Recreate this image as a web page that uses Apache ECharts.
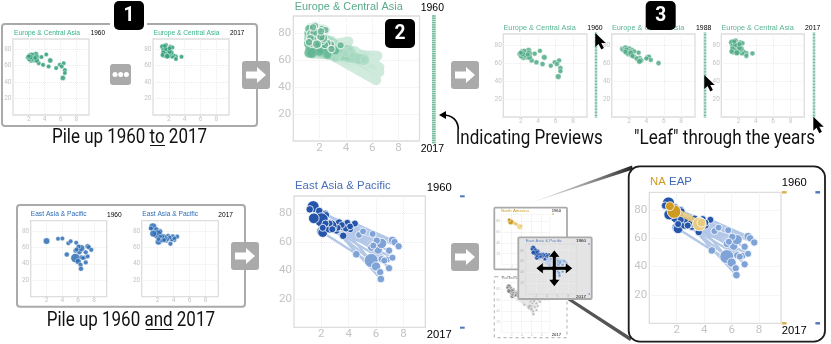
<!DOCTYPE html>
<html><head><meta charset="utf-8">
<style>html,body{margin:0;padding:0;background:#fff}#c{width:831px;height:344px}</style>
<script src="https://cdn.jsdelivr.net/npm/echarts@6/dist/echarts.min.js"></script>
</head><body><div id="c"></div>
<script>
// ---------- data: [fertility, life expectancy]
const years = [1960,1961,1962,1963,1964,1965,1966,1967,1968,1969,1970,1971,1972,1973,1974,1975,1976,1977,1978,1979,1980,1981,1982,1983,1984,1985,1986,1987,1988,1989,1990,1991,1992,1993,1994,1995,1996,1997,1998,1999,2000,2001,2002,2003,2004,2005,2006,2007,2008,2009,2010,2011,2012,2013,2014,2015,2016,2017];
const endYears = [1960,2017];
const eca1960 = [[1.87,70],[2.17,73.2],[2.5,71],[2.9,74],[2.7,67],[2.3,66],[3.1,70.4],[3.6,70.4],[4.2,73.6],[4.7,66.4],[3.25,63],[3.8,61],[4.5,59],[5.45,57],[5.9,61],[6.4,63],[6.15,59],[6.55,54.5],[6.55,51],[6.3,45],[2.1,68],[2.5,68.5],[2.9,71.5],[2.4,73.5],[3.0,66.5],[2.2,70.5],[2.8,69.5],[2.0,71.5]];
const eca1988 = [[1.2,76],[1.3,75],[1.6,77],[2.0,75.6],[1.8,72],[1.9,70],[2.35,74.5],[2.6,73],[3.1,71.6],[3.2,65.4],[2.6,67],[2.9,65],[3.3,63.5],[4.1,66.5],[4.3,67],[4.5,63.5],[3.4,63],[5.4,60],[4.0,65],[3.2,62],[1.9,71],[2.1,73],[1.5,74],[1.7,75],[2.3,69],[2.2,71],[2.4,68],[1.6,72.5]];
const eca2000 = [[1.25,79],[1.3,78],[1.35,79.5],[1.55,79],[1.2,72],[1.25,67],[1.5,78],[1.7,78],[1.9,78],[2.2,68],[1.3,70],[1.4,68],[1.2,65],[1.8,69],[2.3,68],[2.6,64],[3.2,67],[2.0,66],[1.6,70],[1.7,74],[1.4,75],[1.3,66],[1.25,72],[1.3,67],[1.6,76],[1.4,65],[1.2,80],[1.8,76.5]];
const eca2017 = [[1.3,84],[1.65,85],[1.45,82],[1.2,83],[1.35,79],[1.4,72],[1.7,81],[2.2,83],[2.45,82],[2.85,71],[1.6,76],[1.9,72],[1.8,79],[2.0,79],[2.6,72.4],[2.9,68],[3.6,70.8],[2.4,71],[2.2,74],[2.3,76],[1.6,80],[1.5,75],[1.3,76],[1.2,73],[2.1,77],[1.8,71.5],[1.5,84],[2.1,81]];
const ecaPop = [10,8,40,50,60,8,5,5,5,30,6,8,10,5,4,5,6,8,5,40,50,20,15,10,35,60,5,8];
const eap1960 = [[2.0,67.6],[3.45,70.4],[4.0,70.8],[4.75,65],[5.05,67.5],[5.75,65.7],[4.56,51.4],[5.65,47],[6.0,42.8],[6.3,38.8],[6.35,34],[6.95,41.6],[6.4,48],[6.8,47.7],[7.2,49],[7.2,61.2],[7.35,60],[7.65,57],[6.95,54],[6.15,54.5],[6.4,59],[5.65,56],[6.05,61],[5.8,57.5],[6.6,47]];
const eap2017 = [[1.4,84.9],[1.15,83],[1.85,81.8],[2.3,80],[3.3,73.7],[2.35,79],[3.6,64.4],[2.0,75.6],[2.1,66.7],[3.55,70.7],[3.1,68],[3.9,73.5],[4.1,69],[3.8,69.5],[2.9,69.5],[4.45,73],[4.1,71],[3.5,72],[3.2,70],[1.45,76.7],[2.65,71],[2.6,73],[2.3,73],[2.1,70],[2.8,69]];
const eapPop1960 = [220,12,12,12,12,12,40,900,140,25,40,25,20,15,15,60,25,25,25,90,250,25,25,15,15];
const eapPop2017 = [500,30,40,15,40,15,30,900,200,40,15,15,15,15,15,15,8,8,8,300,800,15,15,15,15];
const na1960 = [[3.65,70],[3.8,71]];
const na2017 = [[1.8,78.8],[1.5,82.6]];
const naPop = [800,110];

// ---------- styling
const GREEN='#2f9e78', BLUE='#2b6cb4', LBLUE='#7fa3d6', DBLUE='#2455aa', GOLD='#cf9a22', LGOLD='#e9cb80', FRAME='#aaaaaa';
const grids=[],xAxes=[],yAxes=[],series=[],gfx=[];
const meas=document.createElement('canvas').getContext('2d');
const size=k=>v=>k*(6+0.27*Math.sqrt(v[2]));
const withPop=(pts,pop)=>pts.map((p,i)=>[p[0],p[1],pop[i]]);
const pairs=(a,b)=>a.map((p,i)=>({coords:[p,b[i]]}));

function plot(x1,y1,x2,y2,font,z,opt){
  opt=opt||{};
  const i=grids.length;
  grids.push({left:x1,top:y1,width:x2-x1,height:y2-y1,show:true,borderColor:opt.border||'#dddddd',borderWidth:opt.bw||1.3,backgroundColor:'transparent',z:z});
  const lab={color:opt.lab||'#c4c4c4',fontSize:font,fontFamily:'Roboto'};
  const split={show:true,lineStyle:{color:'#ececec',width:1,type:'dotted'},showMinLine:false,showMaxLine:false};
  xAxes.push({type:'value',gridIndex:i,min:0,max:9.6,interval:2,z:z,axisLine:{show:false},axisTick:{show:false},axisLabel:Object.assign({showMinLabel:false,showMaxLabel:false,margin:opt.mx==null?0.5:opt.mx},lab),splitLine:split});
  yAxes.push({type:'value',gridIndex:i,min:0,max:92.4,interval:20,z:z,axisLine:{show:false},axisTick:{show:false},axisLabel:Object.assign({showMinLabel:false,showMaxLabel:false,margin:opt.my==null?1.5:opt.my},lab),splitLine:split});
  return i;
}
function dots(g,pts,pop,k,color,z,op,bc,bw){
  series.push({type:'scatter',xAxisIndex:g,yAxisIndex:g,data:withPop(pts,pop),symbolSize:size(k),z:z,silent:true,
    itemStyle:{color:color,opacity:op==null?0.85:op,borderColor:bc||'#ffffff',borderWidth:bw==null?0.5:bw}});
}
function links(g,a,b,color,w,op,z){
  series.push({type:'lines',coordinateSystem:'cartesian2d',xAxisIndex:g,yAxisIndex:g,data:pairs(a,b),z:z,silent:true,
    lineStyle:{color:color,width:w,opacity:op,curveness:0,cap:'round'}});
}
function strip(x1,y1,x2,y2,yrs,marks,z){
  const i=grids.length;
  grids.push({left:x1,top:y1,width:x2-x1,height:y2-y1,show:false,z:z});
  const off={show:false};
  xAxes.push({type:'value',gridIndex:i,min:0,max:1,show:false,axisLine:off,splitLine:off});
  yAxes.push({type:'value',gridIndex:i,min:1960,max:2017,inverse:true,show:false,axisLine:off,splitLine:off});
  marks.forEach(m=>series.push({type:'scatter',xAxisIndex:i,yAxisIndex:i,data:yrs.map(y=>[m.x,y]),symbol:'rect',symbolSize:[m.w,m.h],z:z,silent:true,clip:false,itemStyle:{color:m.color}}));
}
function T(s,x1,x2,cy,fs,fill,fam,z,w){
  const font=(w||'normal')+' '+fs+'px "'+(fam||'Liberation Sans')+'"';
  meas.font=font;
  const sx=(x2-x1)/meas.measureText(s).width;
  gfx.push({type:'text',x:x1,y:cy,scaleX:sx,scaleY:1,z:z||50,silent:true,style:{text:s,font:font,fill:fill||'#000',textAlign:'left',textVerticalAlign:'middle'}});
}
function R(x1,y1,x2,y2,r,fill,stroke,lw,z,dash){
  gfx.push({type:'rect',z:z||40,silent:true,shape:{x:x1,y:y1,width:x2-x1,height:y2-y1,r:r},style:{fill:fill||'transparent',stroke:stroke||null,lineWidth:lw||0,lineDash:dash||null}});
}
function badge(x1,y1,s){
  R(x1,y1,x1+30,y1+29,5,'#000',null,0,60);
  T(s,x1+9.5,x1+20.5,y1+15,21,'#fff','Roboto',61,'bold');
}
function btn(x1,y1){
  R(x1,y1,x1+28,y1+28,3,FRAME,null,0,40);
  const c=y1+14,l=x1+4;
  gfx.push({type:'polygon',z:41,silent:true,shape:{points:[[l,c-3.5],[l+11,c-3.5],[l+11,c-8],[l+20,c],[l+11,c+8],[l+11,c+3.5],[l,c+3.5]]},style:{fill:'#fff'}});
}
function cursor(x,y){
  gfx.push({type:'polygon',z:70,silent:true,shape:{points:[[x,y],[x,y+14],[x+3.2,y+11],[x+6,y+16.5],[x+8.6,y+15],[x+6,y+10],[x+10.5,y+10]]},style:{fill:'#000'}});
}

// ---------- row 1
R(2,24,257,126,3,'#fff',FRAME,2,1);
R(110,20,147,30,0,'#fff',null,0,2);
badge(114,1,'1');
let g;
g=plot(13,39,89,115,6.5,5); dots(g,eca1960,ecaPop,0.68,GREEN,6);
g=plot(153,39,229,115,6.5,5); dots(g,eca2017,ecaPop,0.68,GREEN,6);
T('Europe & Central Asia',14,80,33,7,'#36b38a');
T('1960',90.7,105,33.5,6.5);
T('Europe & Central Asia',153.7,219.5,33,7,'#36b38a');
T('2017',230,244.3,33.5,6.5);
R(110,64,131,85,3,FRAME,null,0,40);
[115,120.7,126.4].forEach(x=>gfx.push({type:'circle',z:41,silent:true,shape:{cx:x,cy:74.5,r:2.5},style:{fill:'#fff'}}));
btn(242,61);
T('Pile up 1960 to 2017',52,207,137.5,20,'#111','Roboto');
gfx.push({type:'line',z:50,silent:true,shape:{x1:150,y1:145.5,x2:165,y2:145.5},style:{stroke:'#111',lineWidth:1}});

// big ECA
g=plot(293.3,16,419.5,141,11.5,5,{mx:1,my:2});
links(g,eca1960,eca1988,'#c4e6d5',10,0.8,6);
dots(g,eca1960,ecaPop,1.2,'#cfeadd',6.5,1,'#cfeadd',0);
links(g,eca1988,eca2000,'#93d0b3',10,0.6,7);
links(g,eca2000,eca2017,'#a6d9c0',9,0.6,7);
dots(g,eca1988,ecaPop,1.2,'#a9dac2',7.5,0.8,'#d3ecdf',0.5);
dots(g,eca2000,ecaPop,1.2,'#62b592',8,0.85,'#8fcdb0',0.5);
dots(g,eca2017,ecaPop,1.1,'#5fb08e',9,0.75,'#ffffff',1.2);
T('Europe & Central Asia',294.7,402.7,7,11.5,'#59ab8a');
T('1960',420.7,444,8,10.5);
T('2017',420.7,444,149,10.5);
strip(432,16,435.7,142.5,years,[{x:0.5,color:'#4ea982',w:3.7,h:1.6}],5);
badge(385,19,'2');
btn(451,61);
gfx.push({type:'bezierCurve',z:50,silent:true,shape:{x1:458.3,y1:129,x2:443,y2:115,cpx1:458,cpy1:120,cpx2:452,cpy2:115},style:{stroke:'#000',lineWidth:1.6,fill:'none'}});
gfx.push({type:'polygon',z:50,silent:true,shape:{points:[[439,115],[446,111],[446,119]]},style:{fill:'#000'}});
T('Indicating Previews',455.7,602.7,139,20,'#111','Roboto');

// leafing panels
[[503.3,587,eca1960,'1960',587.3,594.7,33],[611.7,695,eca1988,'1988',696,703.7,75],[721.3,804.3,eca2017,'2017',805,812.7,116.7]].forEach(p=>{
  const i=plot(p[0],34,p[1],117,6.5,5);
  dots(i,p[2],ecaPop,0.75,'#4daa85',6);
  T('Europe & Central Asia',p[0]+0.2,p[0]+72.5,27.7,7,'#58b391');
  T(p[3],p[4],p[4]+15.3,28.2,6.8);
  strip(p[5],33,p[5]+2.6,117,years,[{x:0.5,color:'#4ea982',w:2.6,h:1}],5);
  cursor(p[5]+0.6,p[6]);
});
R(645,19,676,30,0,'#fff',null,0,39);
badge(645.7,1,'3');
T('"Leaf" through the years',634,815,139,20,'#111','Roboto');

// ---------- row 2
R(17,205,245,306.7,3,'#fff',FRAME,2,1);
g=plot(30.7,220.7,106.7,296.7,6.5,5); dots(g,eap1960,eapPop1960,0.65,BLUE,6);
g=plot(141.7,220.7,218.3,296.7,6.5,5); dots(g,eap2017,eapPop2017,0.65,BLUE,6);
T('East Asia & Pacific',30.7,86.7,214.3,7,BLUE);
T('1960',107,121.7,215,6.5);
T('East Asia & Pacific',142.3,198,214.3,7,BLUE);
T('2017',218.3,233,215,6.5);
btn(231,242);
T('Pile up 1960 and 2017',46.7,215,320.5,20,'#111','Roboto');
gfx.push({type:'line',z:50,silent:true,shape:{x1:145.7,y1:329.5,x2:173.5,y2:329.5},style:{stroke:'#111',lineWidth:1}});

// big EAP
function eapLayers(g,k,wide,thin){
  links(g,eap1960,eap2017,'#ffffff',wide,1,6);
  links(g,eap1960,eap2017,'#b3c7e7',thin,1,6.5);
  dots(g,eap1960,eapPop1960,k,LBLUE,7,1,'#fff',0.8);
  dots(g,eap2017,eapPop2017,k,DBLUE,8,1,'#fff',0.8);
}
g=plot(294,196,425.3,327.3,11.5,5,{mx:1,my:2});
eapLayers(g,1,3.4,2.4);
T('East Asia & Pacific',295,390.7,186,11.5,'#4a6fba');
T('1960',426.7,451.7,187.7,10.5);
T('2017',426.7,451.7,335,10.5);
strip(460,196.3,464.7,327.7,endYears,[{x:0.5,color:DBLUE,w:4.7,h:2}],5);
btn(451,243);

// tiny stack
gfx.push({type:'polygon',z:2,silent:true,shape:{points:[[530,203],[632,165.5],[633,169.5]]},style:{fill:{type:'linear',x:0,y:0,x2:1,y2:0,colorStops:[{offset:0,color:'rgba(190,190,190,0.3)'},{offset:1,color:'#222'}]}}});
gfx.push({type:'polygon',z:2,silent:true,shape:{points:[[566,299],[570,298],[632,338],[630,341]]},style:{fill:'#555'}});
R(494.3,207.7,567,269.3,1,'#fff',FRAME,1.8,10);
g=plot(501.7,214.5,549.7,264.4,3.6,11,{border:'#f0f0f0',bw:0.6});
links(g,na1960,na2017,LGOLD,2,1,12);
dots(g,na1960,naPop,0.42,LGOLD,13,1);
dots(g,na2017,naPop,0.42,GOLD,13,1);
T('North America',501,529,210.7,4,GOLD,null,14);
T('1960',551.7,561,211,3.6,'#000',null,14);
strip(552,214,554,262,endYears,[{x:0.5,color:GOLD,w:2,h:1}],14);
R(494.3,276.7,567,337.7,1,'#fff','#bbbbbb',1.2,8,[3,3]);
g=plot(501.7,282.5,549.7,332.5,3.6,9,{border:'#f0f0f0',bw:0.6,lab:'#cfcfcf'});
links(g,eap1960,eap2017,'#dddddd',1,1,9);
dots(g,eap1960,eapPop1960,0.42,'#c0c0c0',9.5,1);
dots(g,eap2017,eapPop2017,0.42,'#8a8a8a',9.5,1);
T('East Asia & Pacific',502,527,278,4,'#8a8a8a',null,9.5);
T('2017',551.7,561,335,3.6,'#000',null,9.5);
R(518.3,237.3,591.7,299,1,'#e4e4e4',FRAME,1.8,20);
g=plot(525.7,244,576.7,294,3.6,21,{border:'#d6d6d6',bw:0.6,lab:'#bbbbbb'});
links(g,eap1960,eap2017,'#b8cae8',1,1,22);
dots(g,eap1960,eapPop1960,0.42,LBLUE,23,1,'#fff',0.3);
dots(g,eap2017,eapPop2017,0.42,DBLUE,23,1,'#fff',0.3);
T('East Asia & Pacific',525.7,562,240.7,4,'#5c7fc0',null,24);
T('1960',576,586,241.3,3.7,'#000',null,24);
T('2017',576,586,296.5,3.7,'#000',null,24);
strip(588.3,244,589.8,294,endYears,[{x:0.5,color:DBLUE,w:1.5,h:1}],24);
(function(){const c=554.3,d=268.3,L=18.5,H=7.5,S=2,W=6;
 gfx.push({type:'polygon',z:30,silent:true,shape:{points:[
  [c,d-L],[c+W,d-L+H],[c+S,d-L+H],[c+S,d-S],[c+L-H,d-S],[c+L-H,d-W],[c+L,d],[c+L-H,d+W],[c+L-H,d+S],[c+S,d+S],[c+S,d+L-H],[c+W,d+L-H],[c,d+L],[c-W,d+L-H],[c-S,d+L-H],[c-S,d+S],[c-L+H,d+S],[c-L+H,d+W],[c-L,d],[c-L+H,d-W],[c-L+H,d-S],[c-S,d-S],[c-S,d-L+H],[c-W,d-L+H]
 ]},style:{fill:'#000',stroke:'#fff',lineWidth:0.8}});})();

// callout
R(628.7,166.3,825,341.7,11,'#fff','#1c1c1c',1.8,3);
g=plot(649.3,192.3,781,323.3,11.5,5,{mx:1,my:2});
eapLayers(g,1,3.4,2.4);
links(g,na1960,na2017,LGOLD,3,0.9,9);
dots(g,na1960,naPop,1,LGOLD,10,1,'#fff',0.8);
dots(g,na2017,naPop,1,GOLD,10,1,'#fff',0.8);
T('NA',650,665.7,182,11.5,GOLD);
T('EAP',669,692,182,11.5,'#3f67b5');
T('1960',781.7,806.7,183.3,10.5);
T('2017',781.7,806.7,331,10.5);
strip(782,192.3,820,323.3,endYears,[{x:0.06,color:GOLD,w:4.7,h:2.4},{x:0.94,color:DBLUE,w:4.7,h:2.4}],5);

const chart=echarts.init(document.getElementById('c'),null,{renderer:'canvas'});
chart.setOption({animation:false,backgroundColor:'#fff',grid:grids,xAxis:xAxes,yAxis:yAxes,series:series,graphic:{elements:gfx},tooltip:{show:false}});
</script></body></html>
